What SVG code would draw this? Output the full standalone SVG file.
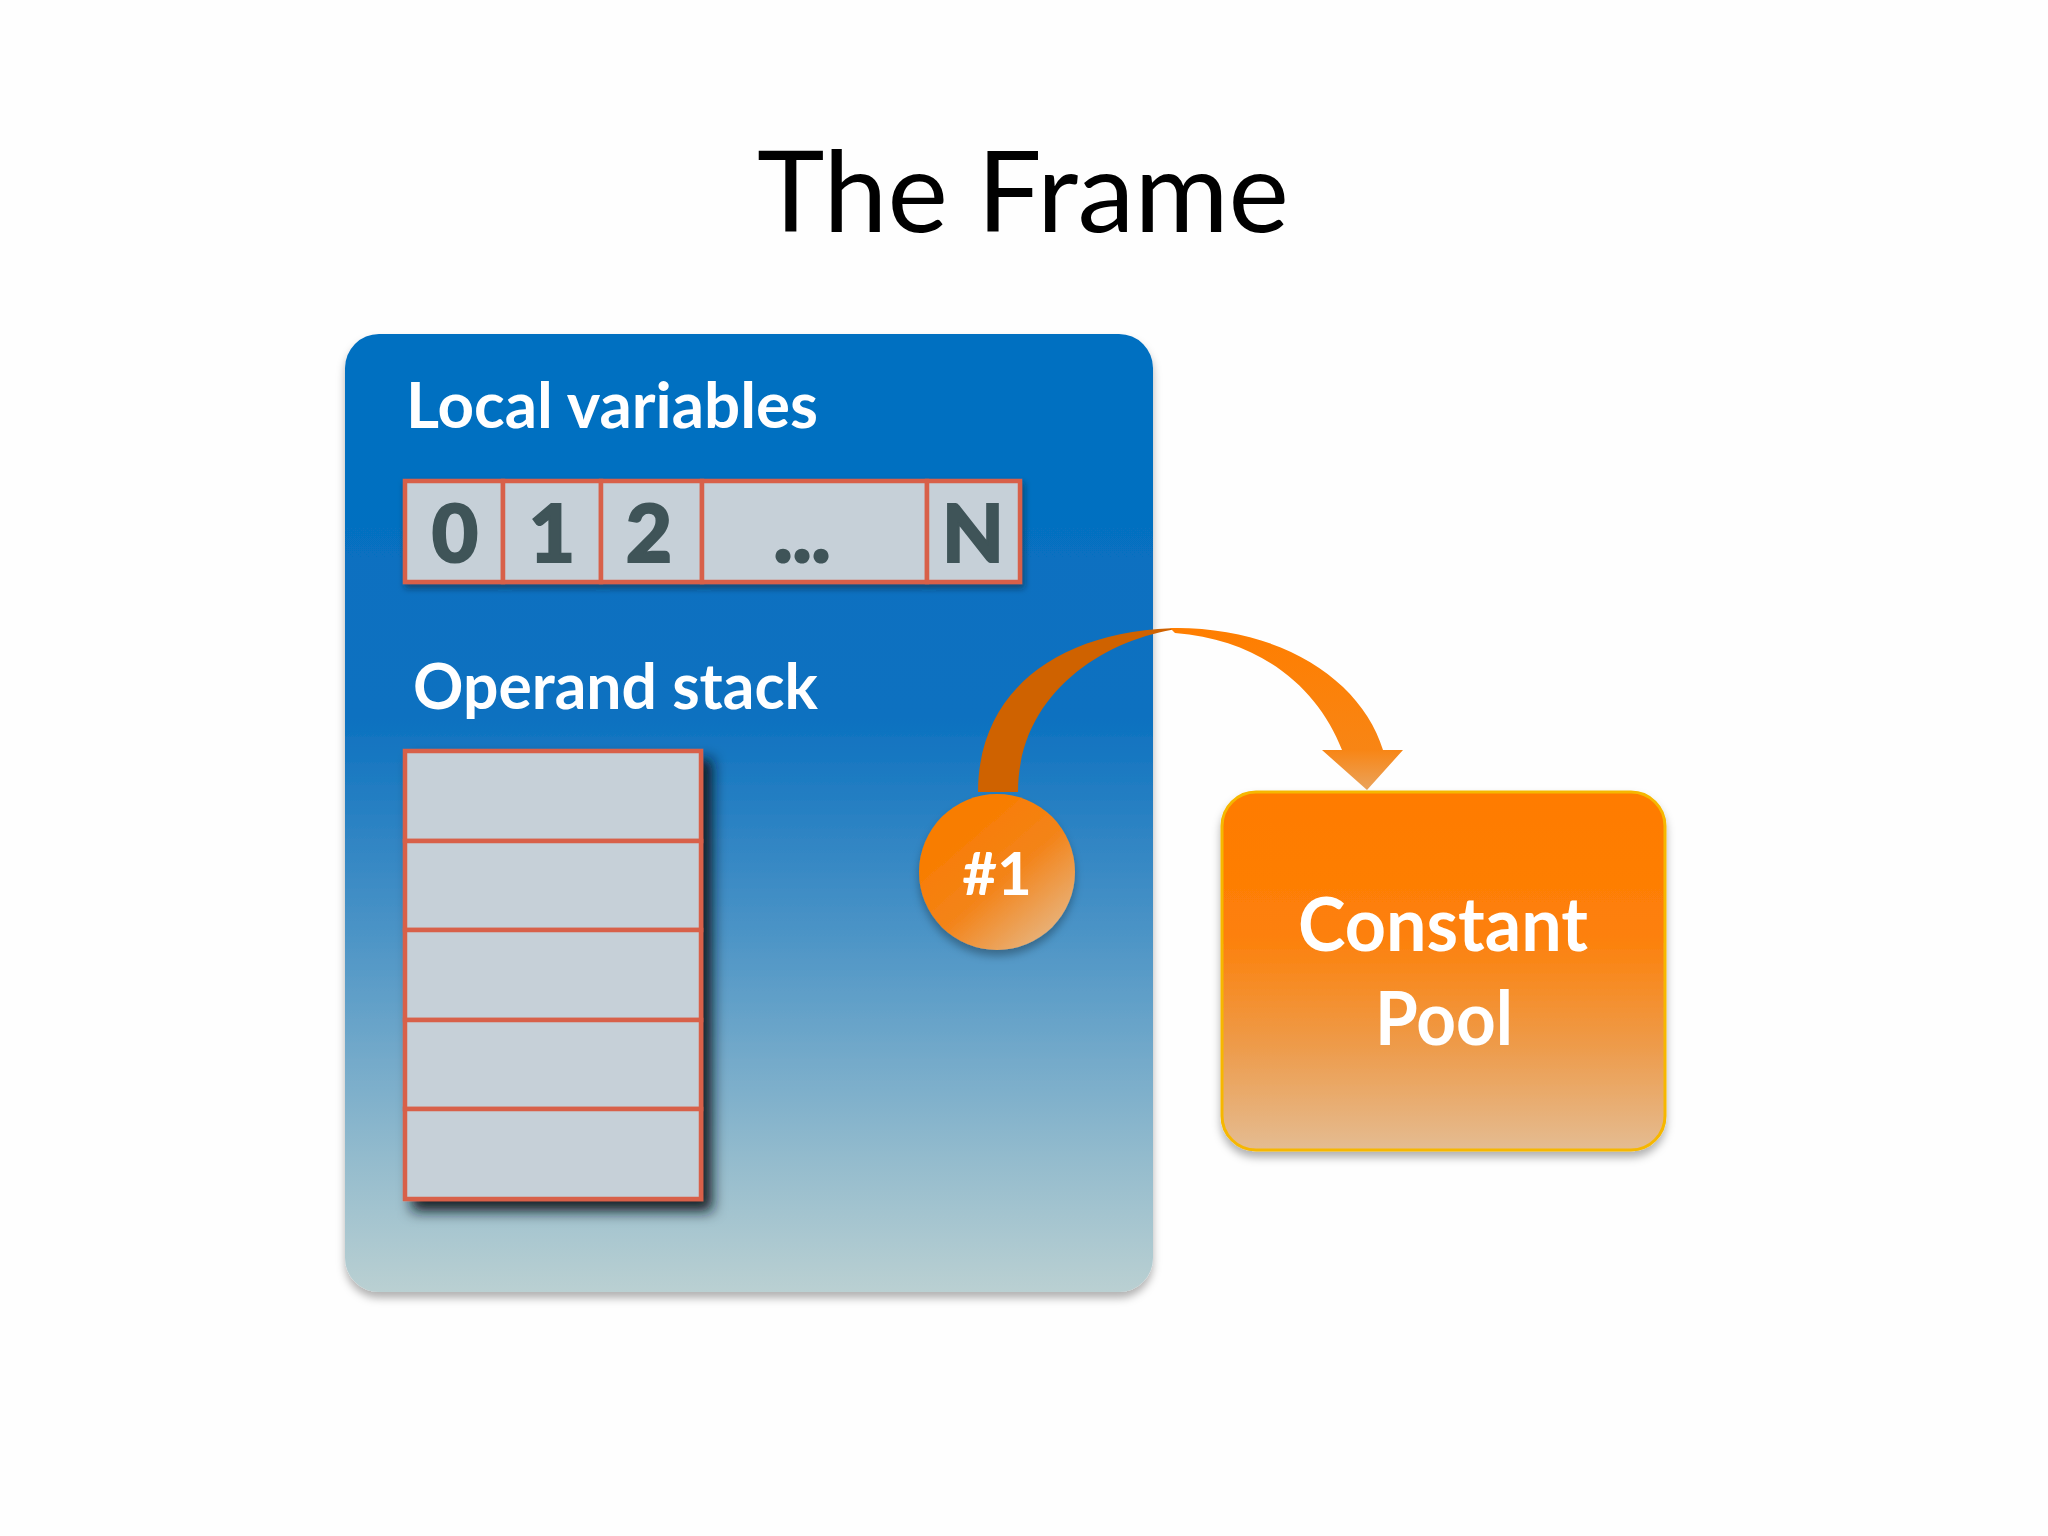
<svg xmlns="http://www.w3.org/2000/svg" width="2048" height="1536" viewBox="0 0 2048 1536">
<defs>
<linearGradient id="gBlue" x1="0" y1="0" x2="0" y2="1">
<stop offset="0" stop-color="#006FC1"/>
<stop offset="0.4" stop-color="#0C71C0"/>
<stop offset="0.62" stop-color="#4A93C6"/>
<stop offset="0.86" stop-color="#93BBCD"/>
<stop offset="1" stop-color="#BAD0D2"/>
</linearGradient>
<linearGradient id="gPool" x1="0" y1="0" x2="0" y2="1">
<stop offset="0" stop-color="#FF7B00"/>
<stop offset="0.4" stop-color="#FD8009"/>
<stop offset="0.7" stop-color="#EE9A48"/>
<stop offset="1" stop-color="#E4BC92"/>
</linearGradient>
<linearGradient id="gCircle" x1="0.3" y1="0.25" x2="0.85" y2="0.9">
<stop offset="0" stop-color="#F87D03"/>
<stop offset="0.45" stop-color="#F3841A"/>
<stop offset="1" stop-color="#E8B27A"/>
</linearGradient>
<linearGradient id="gArrow" x1="0" y1="0" x2="0" y2="1">
<stop offset="0" stop-color="#FF7E00"/>
<stop offset="0.75" stop-color="#F88514"/>
<stop offset="1" stop-color="#EAA35C"/>
</linearGradient>
<filter id="shSoft" x="-10%" y="-10%" width="120%" height="125%">
<feDropShadow dx="0" dy="6" stdDeviation="4" flood-color="#000" flood-opacity="0.3"/>
</filter>
<filter id="shDark" x="-10%" y="-10%" width="130%" height="130%">
<feDropShadow dx="9" dy="10" stdDeviation="7" flood-color="#08141C" flood-opacity="0.95"/>
</filter>
<filter id="shCell" x="-10%" y="-10%" width="125%" height="130%">
<feDropShadow dx="2" dy="4" stdDeviation="3" flood-color="#0B1A24" flood-opacity="0.5"/>
</filter>
</defs>
<style>
.lbl{font-family:Lato,"Open Sans","Liberation Sans",sans-serif;font-weight:bold;fill:#FFFFFF}
.num{font-family:Lato,"Open Sans","Liberation Sans",sans-serif;font-weight:900;fill:#3F5458;text-anchor:middle;stroke:#3F5458;stroke-width:2}
.cell{fill:#C6D0D8;stroke:#D8614A;stroke-width:4.5}
.title{font-family:Lato,"Open Sans","Liberation Sans",sans-serif;fill:#000000}
</style>
<rect width="2048" height="1536" fill="#FEFEFE"/>
<text class="title" x="757" y="232" font-size="112" textLength="532" lengthAdjust="spacingAndGlyphs">The Frame</text>

<g id="frame">
<rect x="345" y="334" width="808" height="958" rx="34" fill="url(#gBlue)" filter="url(#shSoft)"/>
<text class="lbl" x="406" y="428" font-size="64" textLength="412" lengthAdjust="spacingAndGlyphs">Local variables</text>
<text class="lbl" x="413" y="709" font-size="64" textLength="405" lengthAdjust="spacingAndGlyphs">Operand stack</text>
</g>

<g id="local-variables" filter="url(#shCell)">
<rect class="cell" x="405" y="481" width="98" height="101"/>
<rect class="cell" x="503" y="481" width="98" height="101"/>
<rect class="cell" x="601" y="481" width="101" height="101"/>
<rect class="cell" x="702" y="481" width="225" height="101"/>
<rect class="cell" x="927" y="481" width="93" height="101"/>
</g>
<g id="local-variable-labels">
<text class="num" x="455" y="562" font-size="80">0</text>
<text class="num" x="552" y="562" font-size="80">1</text>
<text class="num" x="649" y="562" font-size="80">2</text>
<text class="num" x="802" y="562" font-size="80">...</text>
<text class="num" x="973" y="562" font-size="80">N</text>
</g>

<g id="operand-stack" filter="url(#shDark)">
<rect class="cell" x="405" y="751" width="296" height="90"/>
<rect class="cell" x="405" y="841" width="296" height="89"/>
<rect class="cell" x="405" y="930" width="296" height="90"/>
<rect class="cell" x="405" y="1020" width="296" height="89"/>
<rect class="cell" x="405" y="1109" width="296" height="90"/>
</g>

<g id="connectors">
<path d="M 978,792 C 978,690 1060,628 1185,628 C 1110,636 1018,690 1018,792 Z" fill="#CF6200"/>
<path d="M 1170,628 C 1280,626 1362,680 1383,750 L 1403,750 L 1367,790 L 1322,750 L 1342,750 C 1318,688 1262,640 1175,633 Z" fill="url(#gArrow)"/>
</g>

<g id="ref-1">
<circle cx="997" cy="872" r="78" fill="url(#gCircle)" filter="url(#shSoft)"/>
<text class="lbl" x="997" y="895" font-size="60" text-anchor="middle">#1</text>
</g>

<g id="constant-pool">
<rect x="1222" y="792" width="443" height="358" rx="34" fill="url(#gPool)" stroke="#F6B700" stroke-width="3" filter="url(#shSoft)"/>
<text class="lbl" x="1443" y="951" font-size="74" text-anchor="middle" textLength="290" lengthAdjust="spacingAndGlyphs">Constant</text>
<text class="lbl" x="1444" y="1045" font-size="74" text-anchor="middle" textLength="138" lengthAdjust="spacingAndGlyphs">Pool</text>
</g>
</svg>
